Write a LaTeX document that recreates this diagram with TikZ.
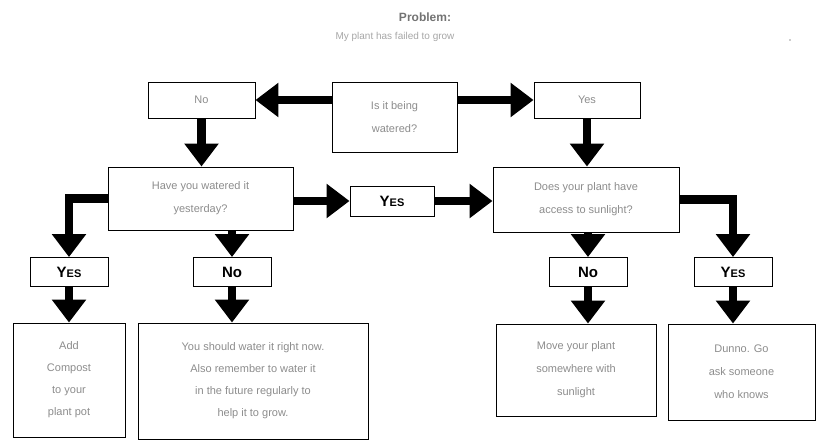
\documentclass[tikz,border=0pt]{standalone}
\usepackage{fontspec}
\setmainfont{Liberation Sans}
\usetikzlibrary{arrows.meta}
\begin{document}
\begin{tikzpicture}[x=1pt,y=-1pt,
  box/.style={draw=black, line width=0.9pt, rectangle, inner sep=0pt,
    align=center, text=black!45, font=\fontsize{11}{23}\selectfont},
  answer/.style={draw=black, line width=0.9pt, rectangle, inner sep=0pt,
    minimum width=78pt, minimum height=29pt, font=\bfseries\fontsize{15}{15}\selectfont},
  flow/.style={line width=8.5pt, -{Triangle[width=33pt,length=23pt]}},
]
\useasboundingbox (0,0) rectangle (820,440);

% heading
\node[text=black!55, font=\bfseries\fontsize{12}{12}\selectfont] (title) at (425,17) {Problem:};
\node[text=black!35, font=\fontsize{10}{10}\selectfont] (sub) at (395,37) {My plant has failed to grow};
\fill[black!40] (790,40) circle (0.8);

% first level
\node[box, minimum width=125pt, minimum height=70pt] (root) at (394.5,117) {Is it being\\watered?};
\node[box, minimum width=107pt, minimum height=36pt] (no1) at (201.5,100) {No};
\node[box, minimum width=106pt, minimum height=36pt] (yes1) at (587,100) {Yes};

% second level
\node[box, minimum width=185pt, minimum height=63pt] (q2) at (200.5,198.5) {Have you watered it\\yesterday?};
\node[answer, minimum width=84pt, minimum height=30pt] (yesm) at (392,201) {Y{\fontsize{11}{11}\selectfont ES}};
\node[box, minimum width=186pt, minimum height=65pt] (q3) at (586,199.5) {Does your plant have\\access to sunlight?};

% answers
\node[answer] (yesA) at (69,272) {Y{\fontsize{11}{11}\selectfont ES}};
\node[answer] (noB) at (232,272) {No};
\node[answer] (noC) at (588,272) {No};
\node[answer] (yesD) at (733,272) {Y{\fontsize{11}{11}\selectfont ES}};

% outcomes
\node[box, minimum width=112pt, minimum height=114pt, font=\fontsize{11}{22}\selectfont] (a1) at (69,380) {Add\\Compost\\to your\\plant pot};
\node[box, minimum width=230pt, minimum height=116pt, font=\fontsize{11}{22}\selectfont] (a2) at (253,381) {You should water it right now.\\Also remember to water it\\in the future regularly to\\help it to grow.};
\node[box, minimum width=160pt, minimum height=92pt] (a3) at (576,370) {Move your plant\\somewhere with\\sunlight};
\node[box, minimum width=147pt, minimum height=96pt] (a4) at (741.5,372) {Dunno. Go\\ask someone\\who knows};

% connectors
\draw[flow] (root.west |- no1.east) -- (no1.east);
\draw[flow] (root.east |- yes1.west) -- (yes1.west);
\draw[flow] (no1.south) -- (no1.south |- q2.north);
\draw[flow] (yes1.south) -- (yes1.south |- q3.north);
\draw[flow] (q2.east |- yesm.west) -- (yesm.west);
\draw[flow] (yesm.east) -- (q3.west |- yesm.east);
\draw[flow] (q2.west) -| (yesA.north);
\draw[flow] (q2.south -| noB.north) -- (noB.north);
\draw[flow] (q3.south -| noC.north) -- (noC.north);
\draw[flow] (q3.east) -| (yesD.north);
\draw[flow] (yesA.south) -- (yesA.south |- a1.north);
\draw[flow] (noB.south) -- (noB.south |- a2.north);
\draw[flow] (noC.south) -- (noC.south |- a3.north);
\draw[flow] (yesD.south) -- (yesD.south |- a4.north);
\end{tikzpicture}
\end{document}
